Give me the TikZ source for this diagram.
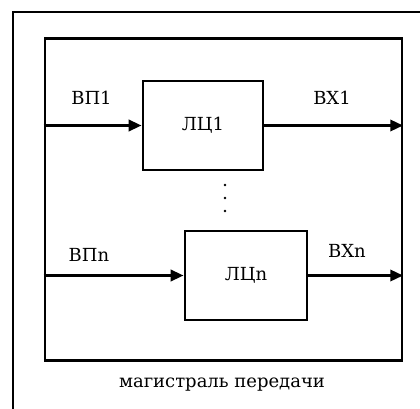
\documentclass[tikz,border=0pt]{standalone}
\usepackage{fontspec}
\setmainfont{DejaVu Serif}
\usetikzlibrary{arrows.meta}
\tikzset{
  unit/.style={draw, line width=2.6pt, minimum width=#1, minimum height=89pt, inner sep=0pt},
  signal/.style={line width=3.2pt, -{Triangle[length=13pt,width=11pt]}},
  lbl/.style={font=\fontsize{18}{21}\selectfont, inner sep=0pt},
}
\begin{document}
\begin{tikzpicture}[x=1pt,y=1pt]
  \useasboundingbox (0,0) rectangle (420,-409);
  \clip (0,0) rectangle (420,-409);
  \fill[white] (0,0) rectangle (420,-409);
  % outer frame (only its top and left sides fall inside the page)
  \draw[line width=2pt] (13,-12) rectangle (440,-440);
  % transfer bus
  \node[draw, line width=2.6pt, minimum width=357pt, minimum height=322pt, inner sep=0pt]
    (bus) at (223.5,-199.5) {};
  % logic chains
  \node[unit=120pt, lbl] (lc1) at (203,-125.5) {ЛЦ1};
  \node[unit=122pt, lbl] (lcn) at (246,-275.5) {ЛЦn};
  % inputs and outputs
  \draw[signal] (bus.west |- lc1) -- (lc1.west);
  \draw[signal] (lc1.east) -- (bus.east |- lc1);
  \draw[signal] (bus.west |- lcn) -- (lcn.west);
  \draw[signal] (lcn.east) -- (bus.east |- lcn);
  \node[lbl] (in1) at (91.5,-98) {ВП1};
  \node[lbl] (out1) at (332,-98) {ВХ1};
  \node[lbl] (inn) at (89,-255) {ВПn};
  \node[lbl] (outn) at (347,-251) {ВХn};
  % ellipsis between the chains
  \foreach \yy in {185,198,211} \fill (225,-\yy) circle (1.4pt);
  % caption
  \node[lbl] (cap) at (222,-385) {магистраль передачи};
\end{tikzpicture}
\end{document}
